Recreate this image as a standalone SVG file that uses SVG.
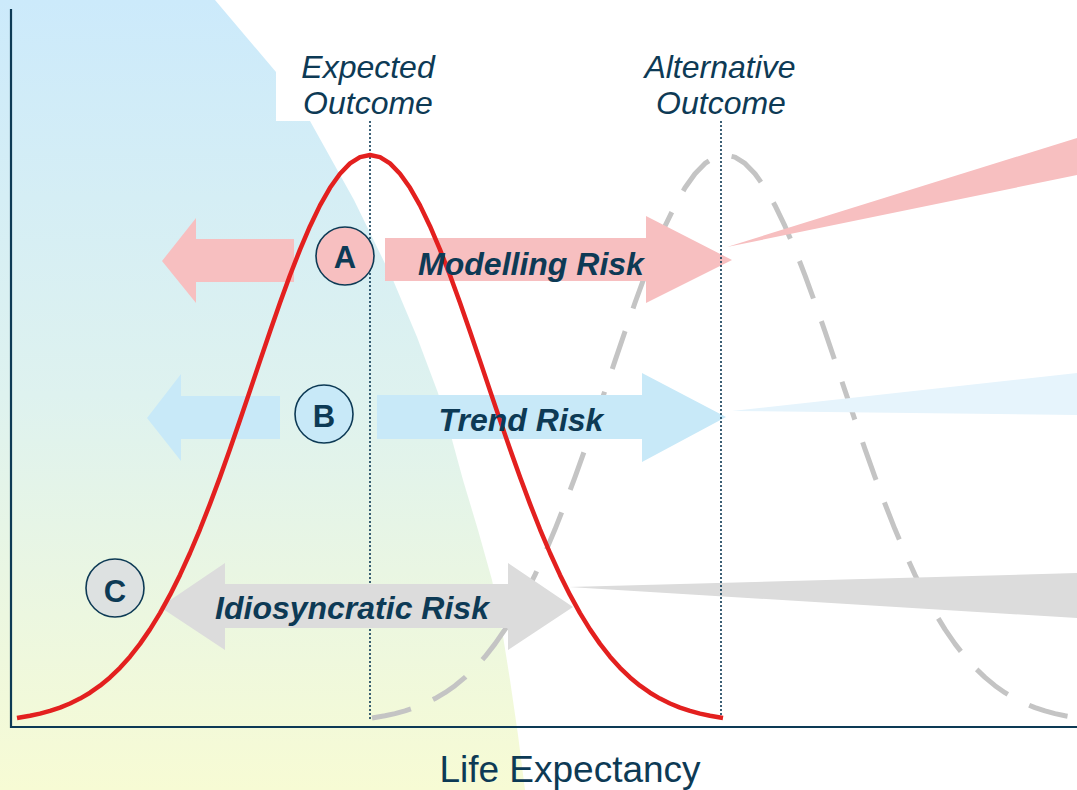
<svg xmlns="http://www.w3.org/2000/svg" width="1077" height="790" viewBox="0 0 1077 790">
<style>
.lbl{font-family:"Liberation Sans",Arial,sans-serif;fill:#0d3a55}
.hdr{font-size:32px;font-style:italic;text-anchor:middle}
.risk{font-size:32px;font-style:italic;font-weight:bold;text-anchor:middle}
.ltr{font-size:31px;font-weight:bold;text-anchor:middle}
.circ{stroke:#0d3a55;stroke-width:1.6}
.dot{stroke:#0d3a55;stroke-width:1.6;stroke-dasharray:2 2;fill:none}
.axis{stroke:#0d3a55;stroke-width:2.2;fill:none}
</style>
<defs>
<linearGradient id="bg" x1="0" y1="0" x2="0" y2="1">
<stop offset="0" stop-color="#cceafb"/>
<stop offset="0.5" stop-color="#def2ef"/>
<stop offset="1" stop-color="#f7fbd4"/>
</linearGradient>
</defs>
<rect width="1077" height="790" fill="#ffffff"/>
<path d="M0,0 L215,0 L276,72 L310,121 L354,200 L393,280 L417,337 L438,393 L451,436 L463,480 L478,530 L492,580 L502,630 L510,680 L518,735 L525,790 L0,790 Z" fill="url(#bg)"/>
<rect x="276" y="72" width="200" height="49" fill="#ffffff"/>

<g id="axes">
<polyline class="axis" points="11,9 11,727 1077,727"/>
</g>

<g id="alternative-curve">
<polyline fill="none" stroke="#c4c4c4" stroke-width="5" stroke-dasharray="40 24" stroke-linejoin="round" points="372,718 385,715.8 395,713.6 405,710.9 415,707.6 425,703.5 435,698.6 445,692.7 455,685.7 465,677.4 475,667.8 485,656.7 495,643.9 505,629.4 515,613.1 525,594.9 535,574.9 545,553 555,529.3 565,503.9 575,477.1 585,449.1 595,420.1 605,390.6 615,360.9 625,331.5 635,302.8 645,275.3 655,249.6 665,226.2 675,205.4 685,187.8 695,173.7 705,163.4 715,157.1 725,155 735,157.1 745,163.4 755,173.7 765,187.8 775,205.4 785,226.2 795,249.6 805,275.3 815,302.8 825,331.5 835,360.9 845,390.6 855,420.1 865,449.1 875,477.1 885,503.9 895,529.3 905,553 915,574.9 925,594.9 935,613.1 945,629.4 955,643.9 965,656.7 975,667.8 985,677.4 995,685.7 1005,692.7 1015,698.6 1025,703.5 1035,707.6 1045,710.9 1055,713.6 1065,715.8 1078,718"/>
</g>

<g id="wedges">
<polygon points="727,247 1077,138 1077,175" fill="#f7bfc0"/>
<polygon points="732,411 1077,373 1077,415" fill="#e6f4fc"/>
<polygon points="569,587 1077,573 1077,618" fill="#dcdcdc"/>
</g>

<g id="expected-line">
<line class="dot" x1="370" y1="121" x2="370" y2="719"/>
</g>

<g id="connectors">
<polygon id="arrow-a-left" points="162,261 196,218 196,239 294,239 294,282 196,282 196,303" fill="#f7bfc0"/>
<polygon id="arrow-a-right" points="385,238 646,238 646,216 732,260 646,303 646,281 385,281" fill="#f7bfc0"/>
<polygon id="arrow-b-left" points="147,418 181,374 181,396 280,396 280,439 181,439 181,461" fill="#c8e9f8"/>
<polygon id="arrow-b-right" points="377,395 642,395 642,373 726,417 642,462 642,439 377,439" fill="#c8e9f8"/>
<polygon id="arrow-c" points="160,607 225,563 225,584 508,584 508,563 573,607 508,650 508,628 225,628 225,650" fill="#dcdcdc"/>
</g>

<g id="alternative-line">
<line class="dot" x1="721" y1="121" x2="721" y2="719"/>
</g>

<g id="expected-curve">
<polyline fill="none" stroke="#e3201f" stroke-width="4.5" stroke-linejoin="round" points="17,718 30,715.8 40,713.6 50,710.9 60,707.6 70,703.5 80,698.6 90,692.7 100,685.7 110,677.4 120,667.8 130,656.7 140,643.9 150,629.4 160,613.1 170,594.9 180,574.9 190,553 200,529.3 210,503.9 220,477.1 230,449.1 240,420.1 250,390.6 260,360.9 270,331.5 280,302.8 290,275.3 300,249.6 310,226.2 320,205.4 330,187.8 340,173.7 350,163.4 360,157.1 370,155 380,157.1 390,163.4 400,173.7 410,187.8 420,205.4 430,226.2 440,249.6 450,275.3 460,302.8 470,331.5 480,360.9 490,390.6 500,420.1 510,449.1 520,477.1 530,503.9 540,529.3 550,553 560,574.9 570,594.9 580,613.1 590,629.4 600,643.9 610,656.7 620,667.8 630,677.4 640,685.7 650,692.7 660,698.6 670,703.5 680,707.6 690,710.9 700,713.6 710,715.8 723,718"/>
</g>

<g id="node-a">
<circle class="circ" cx="345" cy="256" r="29" fill="#f7bfc0"/>
<text class="lbl ltr" x="345" y="268">A</text>
</g>
<g id="node-b">
<circle class="circ" cx="324" cy="414" r="29" fill="#c8e9f8"/>
<text class="lbl ltr" x="324" y="427">B</text>
</g>
<g id="node-c">
<circle class="circ" cx="115" cy="588" r="29" fill="#dde1e1"/>
<text class="lbl ltr" x="115" y="602">C</text>
</g>

<g id="labels">
<text class="lbl risk" x="531" y="275">Modelling Risk</text>
<text class="lbl risk" x="521" y="431">Trend Risk</text>
<text class="lbl risk" x="352" y="619">Idiosyncratic Risk</text>
<text class="lbl hdr" x="368" y="78">Expected</text>
<text class="lbl hdr" x="368" y="114">Outcome</text>
<text class="lbl hdr" x="720" y="78">Alternative</text>
<text class="lbl hdr" x="721" y="114">Outcome</text>
<text class="lbl" x="570" y="782" font-size="37" text-anchor="middle">Life Expectancy</text>
</g>
</svg>
